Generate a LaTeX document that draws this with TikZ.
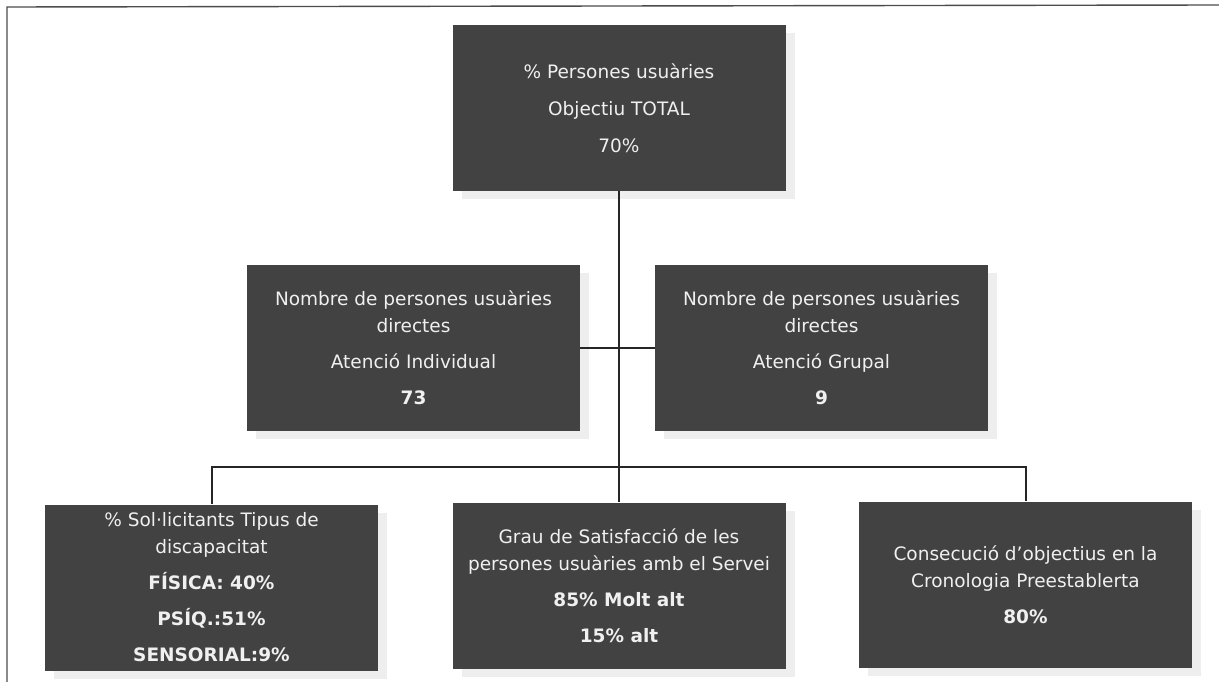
\documentclass[tikz,border=0pt]{standalone}
\usepackage{fontspec}
\setmainfont{DejaVu Sans}
\usetikzlibrary{shadows}
\definecolor{boxgray}{RGB}{66,66,66}
\definecolor{shadowgray}{RGB}{238,238,238}
\begin{document}
\begin{tikzpicture}[x=1pt,y=1pt,
  caixa/.style={fill=boxgray,text=white!94!black,minimum width=333pt,minimum height=166pt,
    align=center,inner sep=0pt,font=\fontsize{18.5}{27}\selectfont,
    drop shadow={fill=shadowgray,opacity=1,shadow xshift=9pt,shadow yshift=-8pt}},
  linia/.style={line width=2pt,black!85}]
\useasboundingbox (0,0) rectangle (1219,-682);
% marc
\draw[line width=1.4pt,black!70] (7,-682) -- (7,-7) -- (1219,-5);
% nivell 1
\node[caixa] (total) at (619,-108) {\% Persones usuàries\\[10pt]Objectiu TOTAL\\[10pt]70\%};
% nivell 2
\node[caixa] (indiv) at (413.5,-347.5) {Nombre de persones usuàries\\directes\\[9pt]Atenció Individual\\[9pt]\textbf{73}};
\node[caixa] (grup) at (821.5,-347.5) {Nombre de persones usuàries\\directes\\[9pt]Atenció Grupal\\[9pt]\textbf{9}};
% nivell 3
\node[caixa] (disc) at (211.5,-587.5) {\% Sol·licitants Tipus de\\discapacitat\\[9pt]\textbf{FÍSICA: 40\%}\\[9pt]\textbf{PSÍQ.:51\%}\\[9pt]\textbf{SENSORIAL:9\%}};
\node[caixa] (satis) at (619,-585.5) {Grau de Satisfacció de les\\persones usuàries amb el Servei\\[9pt]\textbf{85\% Molt alt}\\[9pt]\textbf{15\% alt}};
\node[caixa] (crono) at (1025.5,-584.5) {Consecució d'objectius en la\\Cronologia Preestablerta\\[9pt]\textbf{80\%}};
% connectors
\coordinate (bus) at (619,-467);
\draw[linia] (total.south) -- (satis.north);
\draw[linia] (indiv.east) -- (grup.west);
\draw[linia] (disc.north) |- (bus) -| (crono.north);
\end{tikzpicture}
\end{document}
